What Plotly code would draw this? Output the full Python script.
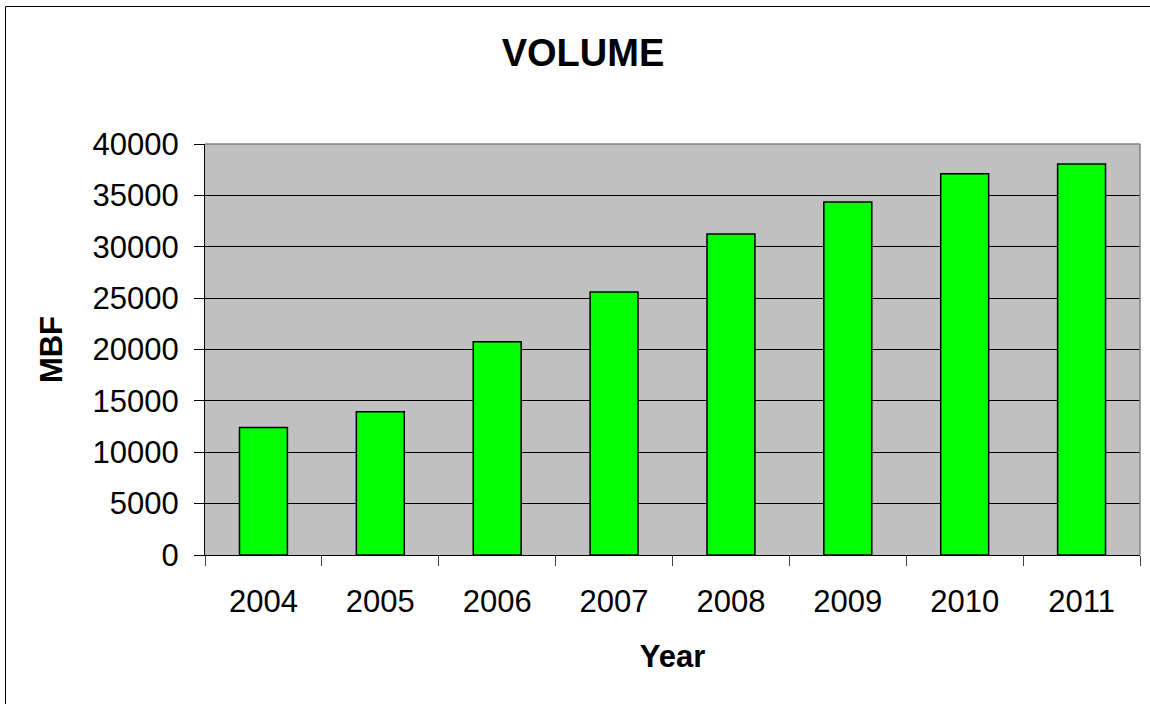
import plotly.graph_objects as go

years = ["2004", "2005", "2006", "2007", "2008", "2009", "2010", "2011"]
volume = [12400, 13950, 20750, 25600, 31250, 34350, 37100, 38050]
y_ticks = [0, 5000, 10000, 15000, 20000, 25000, 30000, 35000, 40000]

W, H = 1150, 704
L, R, T, B = 205, 10, 144, 149
pw, ph = W - L - R, H - T - B

def px_x(x):
    return (x - L) / pw

def px_y(y):
    return (H - B - y) / ph

font = "Liberation Sans, Arial, sans-serif"

fig = go.Figure(go.Bar(
    x=years, y=volume,
    marker=dict(color="#00ff00", line=dict(color="black", width=1.5)),
))

fig.update_layout(
    width=W, height=H,
    margin=dict(l=L, r=R, t=T, b=B),
    paper_bgcolor="white",
    plot_bgcolor="#c0c0c0",
    bargap=0.59,
    showlegend=False,
    font=dict(family=font, color="black", size=31),
    title=dict(text="<b>VOLUME</b>", x=583 / W, xanchor="center",
               y=1 - 53 / H, yanchor="middle", yref="container",
               font=dict(size=38, family=font, color="black")),
    xaxis=dict(
        type="category", tickson="boundaries", ticks="outside", ticklen=10,
        tickcolor="#404040", tickwidth=1,
        showline=True, linecolor="black", linewidth=1,
        showgrid=False,
        tickfont=dict(size=31),
        ticklabelstandoff=19,
        title=dict(text="<b>Year</b>", font=dict(size=31), standoff=27),
    ),
    yaxis=dict(
        range=[0, 40000], tickvals=y_ticks, ticktext=[str(v) for v in y_ticks],
        ticks="outside", ticklen=10, tickcolor="black",
        showline=True, linecolor="black", linewidth=1,
        showgrid=True, gridcolor="black", gridwidth=1,
        zeroline=False,
        tickfont=dict(size=31),
        ticklabelstandoff=9,
        title=dict(text="<b>MBF</b>", font=dict(size=31), standoff=20),
    ),
    shapes=[
        dict(type="line", xref="paper", yref="paper", x0=0, x1=1, y0=1, y1=1,
             line=dict(color="#808080", width=1.5), layer="above"),
        dict(type="line", xref="paper", yref="paper", x0=1, x1=1, y0=0, y1=1,
             line=dict(color="#808080", width=1.5), layer="above"),
        dict(type="rect", xref="paper", yref="paper",
             x0=px_x(5.5), x1=px_x(1170), y0=px_y(6.5), y1=px_y(720),
             line=dict(color="black", width=1), fillcolor="rgba(0,0,0,0)", layer="above"),
    ],
)

fig.write_html("out.html")
